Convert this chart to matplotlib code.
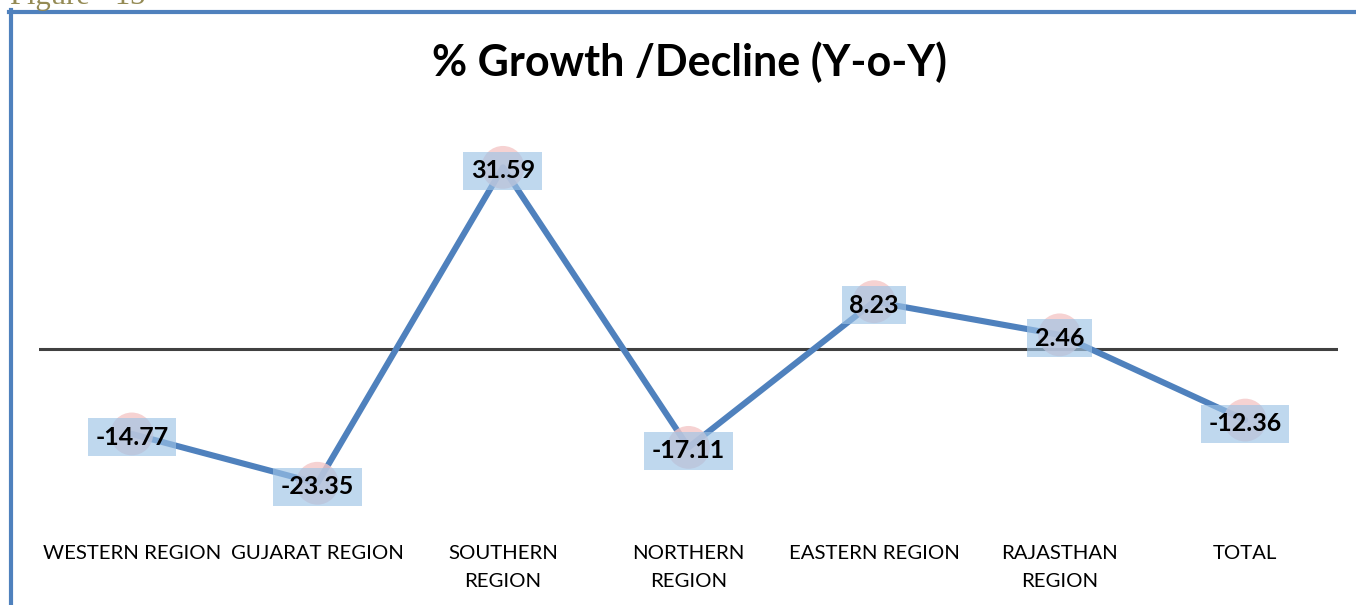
import matplotlib.pyplot as plt
from matplotlib.lines import Line2D

regions = ["WESTERN REGION", "GUJARAT REGION", "SOUTHERN\nREGION", "NORTHERN\nREGION",
           "EASTERN REGION", "RAJASTHAN\nREGION", "TOTAL"]
growth = [-14.77, -23.35, 31.59, -17.11, 8.23, 2.46, -12.36]

W, H = 1356, 605
fig = plt.figure(figsize=(W / 100, H / 100), dpi=100)

# axes placed so the zero line and points land where the reference has them
ax = fig.add_axes([39 / W, (H - 521.5) / H, 1299 / W, 402.5 / H])
x = list(range(len(growth)))

ax.plot(x, growth, color="#4F81BD", lw=4.4, zorder=2, solid_capstyle="round")
ax.scatter(x, growth, s=950, color="#F4C7C7", alpha=0.8, edgecolors="none", zorder=3)
ax.axhline(0, color="#404040", lw=2.2, zorder=1)

for xi, v in zip(x, growth):
    ax.annotate(f"{v:.2f}", (xi, v), xytext=(0, -2.5), textcoords="offset points",
                ha="center", va="center", fontsize=18, fontweight="bold",
                family="Lato", color="black", zorder=5,
                bbox=dict(boxstyle="square,pad=0.3", fc="#9DC3E6", ec="none", alpha=0.65))

ax.set_xlim(-0.5, 6.5)
ax.set_ylim(-30, 40)
ax.set_xticks(x)
ax.set_xticklabels(regions, fontsize=14.7, family="Lato", linespacing=1.8)
ax.tick_params(axis="x", length=0, pad=17)
ax.set_yticks([])
for s in ax.spines.values():
    s.set_visible(False)

fig.text(689 / W, 1 - 62 / H, "% Growth /Decline (Y-o-Y)", ha="center", va="center",
         fontsize=31, fontweight="bold", family="Lato")

# frame border and cut-off caption
fig.add_artist(Line2D([10.5 / W, 10.5 / W], [0, 1 - 10 / H], color="#4F81BD", lw=3))
fig.add_artist(Line2D([9 / W, 1], [1 - 11.5 / H, 1 - 11.5 / H], color="#4F81BD", lw=3))
fig.text(10 / W, 1 - 4 / H, "Figure - 13", ha="left", va="baseline", fontsize=22,
         family="Liberation Serif", color="#948A54")

fig.savefig("out.png", dpi=100)
